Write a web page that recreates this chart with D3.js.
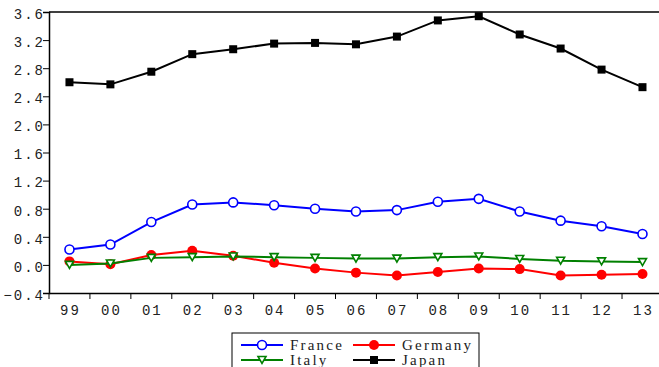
<!DOCTYPE html>
<html>
<head>
<meta charset="utf-8">
<script src="https://cdn.jsdelivr.net/npm/d3@7"></script>
<style>
  body { margin: 0; background: #fff; }
  svg { display: block; }
</style>
</head>
<body>
<svg id="chart" width="659" height="367"></svg>
<script>
// years along the bottom
var years = ["99", "00", "01", "02", "03", "04", "05", "06", "07", "08", "09", "10", "11", "12", "13"]
var yTicks = [-0.4, 0.0, 0.4, 0.8, 1.2, 1.6, 2.0, 2.4, 2.8, 3.2, 3.6]

var france = [0.22, 0.29, 0.61, 0.86, 0.89, 0.85, 0.80, 0.76, 0.78, 0.90, 0.94, 0.76, 0.63, 0.55, 0.44]
var germany = [0.05, 0.01, 0.14, 0.20, 0.13, 0.03, -0.05, -0.11, -0.15, -0.10, -0.05, -0.06, -0.15, -0.14, -0.13]
var italy = [0.00, 0.02, 0.10, 0.11, 0.12, 0.11, 0.10, 0.09, 0.09, 0.11, 0.12, 0.085, 0.06, 0.05, 0.04]
var japan = [2.60, 2.57, 2.75, 3.00, 3.07, 3.15, 3.16, 3.14, 3.25, 3.48, 3.54, 3.28, 3.08, 2.78, 2.53]

var series = [
    { name: "France", values: france, color: "#0000ff", marker: "openCircle" },
    { name: "Germany", values: germany, color: "#ff0000", marker: "dot" },
    { name: "Italy", values: italy, color: "#008000", marker: "triangle" },
    { name: "Japan", values: japan, color: "#000000", marker: "square" }
]

var svg = d3.select("#chart")
var plotLeft = 49, plotTop = 12, plotBottom = 293, step = 40.93

var x = d3.scaleBand()
    .domain(years)
    .range([plotLeft, plotLeft + step * years.length])
    .padding(0)

var y = d3.scaleLinear()
    .domain([-0.4, 3.6])
    .range([plotBottom, plotTop])

var tickFont = "'Liberation Mono', 'Courier New', monospace"

// frame (right side runs off the picture)
svg.append("line")
    .attr("x1", plotLeft).attr("x2", x.range()[1])
    .attr("y1", plotTop).attr("y2", plotTop)
    .attr("stroke", "#000").attr("stroke-width", 1.5)

// left axis
var yAxis = svg.append("g")
    .attr("transform", `translate(${plotLeft},0)`)
    .call(d3.axisLeft(y).tickValues(yTicks).tickSize(6).tickFormat(d3.format(".1f")))
yAxis.select(".domain").attr("stroke-width", 1.5)
yAxis.selectAll("line").attr("stroke-width", 1)
yAxis.selectAll("text")
    .attr("x", -4)
    .attr("dy", "0.45em")
    .style("font-family", tickFont)
    .style("font-size", "14px")
    .style("letter-spacing", "2px")
    .attr("fill", "#222")

// bottom axis: ticks between years, labels centred on the years
var xAxis = svg.append("g")
    .attr("transform", `translate(0,${plotBottom})`)
    .call(d3.axisBottom(x).tickSize(0).tickPadding(12))
xAxis.select(".domain").attr("stroke-width", 1.5)
xAxis.selectAll("text")
    .attr("dx", "1px")
    .style("font-family", tickFont)
    .style("font-size", "14px")
    .style("letter-spacing", "2px")
    .attr("fill", "#222")
xAxis.selectAll(".sep")
    .data(years)
    .join("line")
    .attr("class", "sep")
    .attr("x1", d => x(d)).attr("x2", d => x(d))
    .attr("y1", 0).attr("y2", 6)
    .attr("stroke", "#000")

var cx = function (i) { return x(years[i]) + x.bandwidth() / 2 }

var drawMarker = function (g, type, color) {
    if (type == "openCircle") {
        g.append("circle").attr("r", 4.5).attr("fill", "#fff").attr("stroke", color).attr("stroke-width", 1.6)
    } else if (type == "dot") {
        g.append("circle").attr("r", 5).attr("fill", color)
    } else if (type == "triangle") {
        g.append("path").attr("d", "M-4,-3.5L4,-3.5L0,3.5Z").attr("fill", "#fff").attr("stroke", color).attr("stroke-width", 1.6)
    } else {
        g.append("rect").attr("x", -4).attr("y", -4).attr("width", 8).attr("height", 8).attr("fill", color)
    }
}

var line = d3.line()
    .x((d, i) => cx(i))
    .y(d => y(d))

series.forEach(function (s) {
    var g = svg.append("g")
    g.append("path")
        .attr("d", line(s.values))
        .attr("fill", "none")
        .attr("stroke", s.color)
        .attr("stroke-width", 2)
    g.selectAll("g.pt")
        .data(s.values)
        .join("g")
        .attr("class", "pt")
        .attr("transform", (d, i) => `translate(${cx(i)},${y(d)})`)
        .each(function () { drawMarker(d3.select(this), s.marker, s.color) })
})

// legend
var legend = svg.append("g")
legend.append("rect")
    .attr("x", 232).attr("y", 333)
    .attr("width", 247).attr("height", 60)
    .attr("fill", "#fff").attr("stroke", "#000")

series.forEach(function (s, i) {
    var lx = 241 + (i % 2) * 112
    var ly = 345 + Math.floor(i / 2) * 15
    var item = legend.append("g")
    item.append("line")
        .attr("x1", lx).attr("x2", lx + 42)
        .attr("y1", ly).attr("y2", ly)
        .attr("stroke", s.color).attr("stroke-width", 2)
    var m = item.append("g").attr("transform", `translate(${lx + 21},${ly})`)
    drawMarker(m, s.marker, s.color)
    item.append("text")
        .attr("x", lx + 49).attr("y", ly + 5)
        .text(s.name)
        .style("font-family", "'Liberation Serif', 'Times New Roman', serif")
        .style("font-size", "15px")
        .style("letter-spacing", "2.2px")
        .attr("fill", "#222")
})
</script>
</body>
</html>
